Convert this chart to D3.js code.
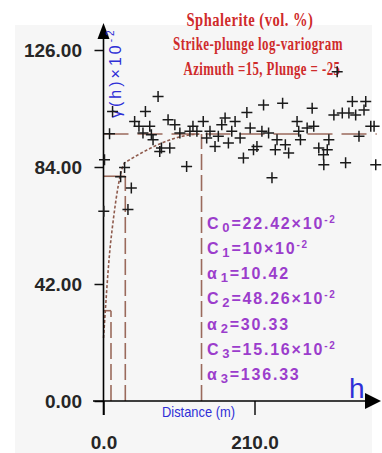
<!DOCTYPE html>
<html>
<head>
<meta charset="utf-8">
<script src="https://cdn.jsdelivr.net/npm/d3@7"></script>
<style>
  html, body { margin: 0; padding: 0; background: #ffffff; }
  svg { display: block; }
</style>
</head>
<body>
<svg id="chart" width="382" height="453"></svg>
<script>
// Experimental log-variogram: lag distance (m) and semivariance (x10^-2)
const lagDistance = [
  1.4, 0.4, 12.6, 8.4, 29.3, 23.8, 38.7, 34.0,
  75.9, 58.3, 43.3, 89.8, 49.3, 64.3, 99.2, 54.9, 66.6, 106.2, 68.9, 80.6,
  92.2, 78.2, 115.6, 120.2, 124.4,
  222.6, 249.1, 199.4, 138.7, 169.1, 164.5, 183.0, 204.0, 129.9, 148.1,
  178.4, 220.3, 229.6, 143.5, 159.7, 190.0, 241.3, 155.1, 173.7, 213.4,
  208.6, 238.9, 252.9, 257.5, 194.6, 234.3,
  290.2, 346.1, 364.7, 320.4, 332.1, 341.3, 350.7, 362.3, 269.2, 292.4,
  283.2, 271.5, 371.7, 376.3, 273.9, 313.4, 355.3, 299.4, 311.2, 306.0,
  306.4, 336.7, 378.6, 325.0
];
const semivariance = [
  86.6, 68.1, 103.9, 95.9, 83.8, 80.5, 76.5, 68.7,
  109.3, 103.9, 100.3, 101.0, 98.6, 98.6, 99.2, 96.2, 95.6, 96.2, 93.8, 90.8,
  90.8, 89.6, 84.2, 96.8, 98.6,
  106.3, 106.9, 103.6, 100.3, 101.6, 99.2, 100.3, 98.0, 96.8, 96.8,
  96.8, 96.8, 96.2, 94.4, 95.0, 94.4, 93.8, 91.4, 92.6, 91.4,
  90.2, 90.2, 92.0, 89.0, 87.2, 80.1,
  105.1, 107.5, 107.5, 102.7, 103.4, 103.4, 102.7, 104.5, 100.3, 98.6,
  98.0, 96.8, 98.6, 98.6, 93.8, 93.8, 95.0, 90.8, 90.2, 88.4,
  84.8, 85.5, 84.8, 118.2
];

// Fitted nested spherical model (x10^-2)
const nugget = 22.42;
const structureSills = [10, 48.26, 15.16];
const structureRanges = [10.42, 30.33, 136.33];
const maxLag = 380;

const titleLines = ["Sphalerite (vol. %)", "Strike-plunge log-variogram", "Azimuth =15, Plunge = -25"];
const yTickValues = [0, 42, 84, 126];
const xTickValues = [0, 210];

const svg = d3.select("#chart");
const W = 382, H = 453;

const x = d3.scaleLinear().domain([0, 210]).range([103.5, 254.5]);
const y = d3.scaleLinear().domain([0, 126]).range([401, 50]);

const guideColor = "#9a6a5c";
const curveColor = "#8e5a4c";
const purple = "#9b3dcc";
const blue = "#2f2fd6";
const red = "#cf2b2b";

// faint panel behind the plot
svg.append("rect").attr("x", 0).attr("y", 0).attr("width", W).attr("height", H).attr("fill", "#ffffff");
svg.append("rect").attr("x", 15).attr("y", 25).attr("width", 357).attr("height", H - 25).attr("fill", "#f6f6f6");

// squeeze a text horizontally so it spans the given width
function fitWidth(sel, width) {
  sel.each(function () {
    const w = this.getComputedTextLength();
    const tx = +this.getAttribute("data-x"), ty = +this.getAttribute("data-y");
    this.setAttribute("transform", `translate(${tx},${ty}) scale(${width / w},1)`);
  });
}

// --- title ---
const titleGeom = [
  { x: 186.5, y: 25.5, len: 127 },
  { x: 173, y: 50, len: 170 },
  { x: 183.5, y: 74.5, len: 157 }
];
svg.append("g").selectAll("text").data(titleLines).join("text")
  .attr("data-x", (d, i) => titleGeom[i].x)
  .attr("data-y", (d, i) => titleGeom[i].y)
  .attr("font-family", "'Liberation Serif', 'Times New Roman', serif")
  .attr("font-weight", "bold")
  .attr("font-size", 18)
  .attr("letter-spacing", 0.6)
  .attr("fill", red)
  .text(d => d)
  .each(function (d, i) { fitWidth(d3.select(this), titleGeom[i].len); });

// --- spherical model ---
function sph(h, a) {
  if (h >= a) return 1;
  const r = h / a;
  return 1.5 * r - 0.5 * r * r * r;
}
function model(h) {
  let g = nugget;
  structureSills.forEach((c, i) => { g += c * sph(h, structureRanges[i]); });
  return g;
}

// cumulative sill after each nested structure
const cumSill = [];
structureSills.reduce((acc, c) => { const s = acc + c; cumSill.push(s); return s; }, nugget);

const guides = svg.append("g")
  .attr("fill", "none")
  .attr("stroke", guideColor)
  .attr("stroke-width", 1.6);

// horizontal guides from the axis to each range (total sill runs across)
guides.selectAll("line.hz").data(structureRanges).join("line")
  .attr("class", "hz")
  .attr("x1", x(0))
  .attr("x2", (d, i) => i === structureRanges.length - 1 ? x(maxLag) : x(d))
  .attr("y1", (d, i) => y(cumSill[i]))
  .attr("y2", (d, i) => y(cumSill[i]))
  .attr("stroke-dasharray", "25,9");

// vertical guides at each range
guides.selectAll("line.vt").data(structureRanges).join("line")
  .attr("class", "vt")
  .attr("x1", d => x(d)).attr("x2", d => x(d))
  .attr("y1", y(0))
  .attr("y2", (d, i) => y(cumSill[i]))
  .attr("stroke-dasharray", "16,5");

// model curve up to the longest range
const hs = d3.range(0.05, structureRanges[2] + 0.01, 0.25);
svg.append("path")
  .datum(hs)
  .attr("fill", "none")
  .attr("stroke", curveColor)
  .attr("stroke-width", 1.6)
  .attr("stroke-dasharray", "3,2")
  .attr("d", d3.line().x(h => x(h)).y(h => y(model(h))));

// --- axes ---
const yAxis = d3.axisLeft(y)
  .tickValues(yTickValues)
  .tickFormat(d3.format(".2f"))
  .tickSize(9)
  .tickPadding(12.5);
const gy = svg.append("g").attr("transform", `translate(${x(0)},0)`).call(yAxis);
gy.select(".domain").remove();
gy.selectAll(".tick line").attr("stroke", "#111").attr("stroke-width", 1.5);
gy.selectAll(".tick text")
  .attr("font-family", "'Liberation Sans', Arial, sans-serif")
  .attr("font-weight", "bold")
  .attr("font-size", 19)
  .attr("fill", "#262626");

const xAxis = d3.axisBottom(x)
  .tickValues(xTickValues)
  .tickFormat(d3.format(".1f"))
  .tickSize(14);
const gx = svg.append("g").attr("transform", `translate(0,${y(0)})`).call(xAxis);
gx.select(".domain").remove();
gx.selectAll(".tick line").attr("stroke", "#111").attr("stroke-width", 1.5);
gx.selectAll(".tick text")
  .attr("y", 48)
  .attr("dy", 0)
  .attr("font-family", "'Liberation Sans', Arial, sans-serif")
  .attr("font-weight", "bold")
  .attr("font-size", 19)
  .attr("fill", "#262626");

// axis lines with arrowheads
const axisG = svg.append("g").attr("stroke", "#000").attr("stroke-width", 1.6);
axisG.append("line").attr("x1", x(0)).attr("x2", x(0)).attr("y1", y(0) + 14).attr("y2", 36);
axisG.append("line").attr("x1", 93).attr("x2", 367).attr("y1", y(0)).attr("y2", y(0));
svg.append("path")
  .attr("d", `M${x(0)},23 L${x(0) + 6},39 L${x(0) - 6},39 Z`)
  .attr("fill", "#000");
svg.append("path")
  .attr("d", `M381,${y(0)} L365,${y(0) - 8} L365,${y(0) + 8} Z`)
  .attr("fill", "#000");

// axis titles
const yTitle = svg.append("text")
  .attr("transform", "translate(121,118) rotate(-90)")
  .attr("font-family", "'Liberation Sans', Arial, sans-serif")
  .attr("font-size", 16)
  .attr("letter-spacing", 3)
  .attr("fill", blue);
yTitle.append("tspan").text("\u03b3(h)\u00d710");
yTitle.append("tspan").attr("font-size", 10).attr("dy", -7).text("-2");

svg.append("text")
  .attr("x", 162).attr("y", 417)
  .attr("textLength", 73)
  .attr("lengthAdjust", "spacingAndGlyphs")
  .attr("font-family", "'Liberation Sans', Arial, sans-serif")
  .attr("font-size", 15)
  .attr("fill", blue)
  .text("Distance (m)");

svg.append("text")
  .attr("x", 349).attr("y", 398)
  .attr("font-family", "'Liberation Sans', Arial, sans-serif")
  .attr("font-size", 28)
  .attr("fill", blue)
  .text("h");

// --- model parameter labels ---
const fmt = v => String(v);
const paramRows = [{ sym: "C", idx: 0, val: nugget, scaled: true }];
structureSills.forEach((c, i) => {
  paramRows.push({ sym: "C", idx: i + 1, val: c, scaled: true });
  paramRows.push({ sym: "\u03b1", idx: i + 1, val: structureRanges[i], scaled: false });
});
const labels = svg.append("g")
  .attr("font-family", "'Liberation Sans', Arial, sans-serif")
  .attr("font-weight", "bold")
  .attr("font-size", 16)
  .attr("letter-spacing", 1.8)
  .attr("fill", purple);
paramRows.forEach((r, i) => {
  const t = labels.append("text").attr("x", 207).attr("y", 228.5 + i * 25.33);
  t.append("tspan").text(r.sym);
  t.append("tspan").attr("font-size", 13).attr("dx", 2).attr("dy", 3).text(r.idx);
  t.append("tspan").attr("dy", -3).text("=" + fmt(r.val) + (r.scaled ? "\u00d710" : ""));
  if (r.scaled) t.append("tspan").attr("font-size", 10).attr("dy", -6).text("-2");
});

// --- experimental points as plus markers ---
const pts = lagDistance.map((h, i) => [x(h), y(semivariance[i])]);
const s = 5.5;
svg.append("path")
  .attr("fill", "none")
  .attr("stroke", "#1a1a1a")
  .attr("stroke-width", 1.5)
  .attr("d", pts.map(([px, py]) =>
    `M${px - s},${py}H${px + s}M${px},${py - s}V${py + s}`).join(""));
</script>
</body>
</html>
